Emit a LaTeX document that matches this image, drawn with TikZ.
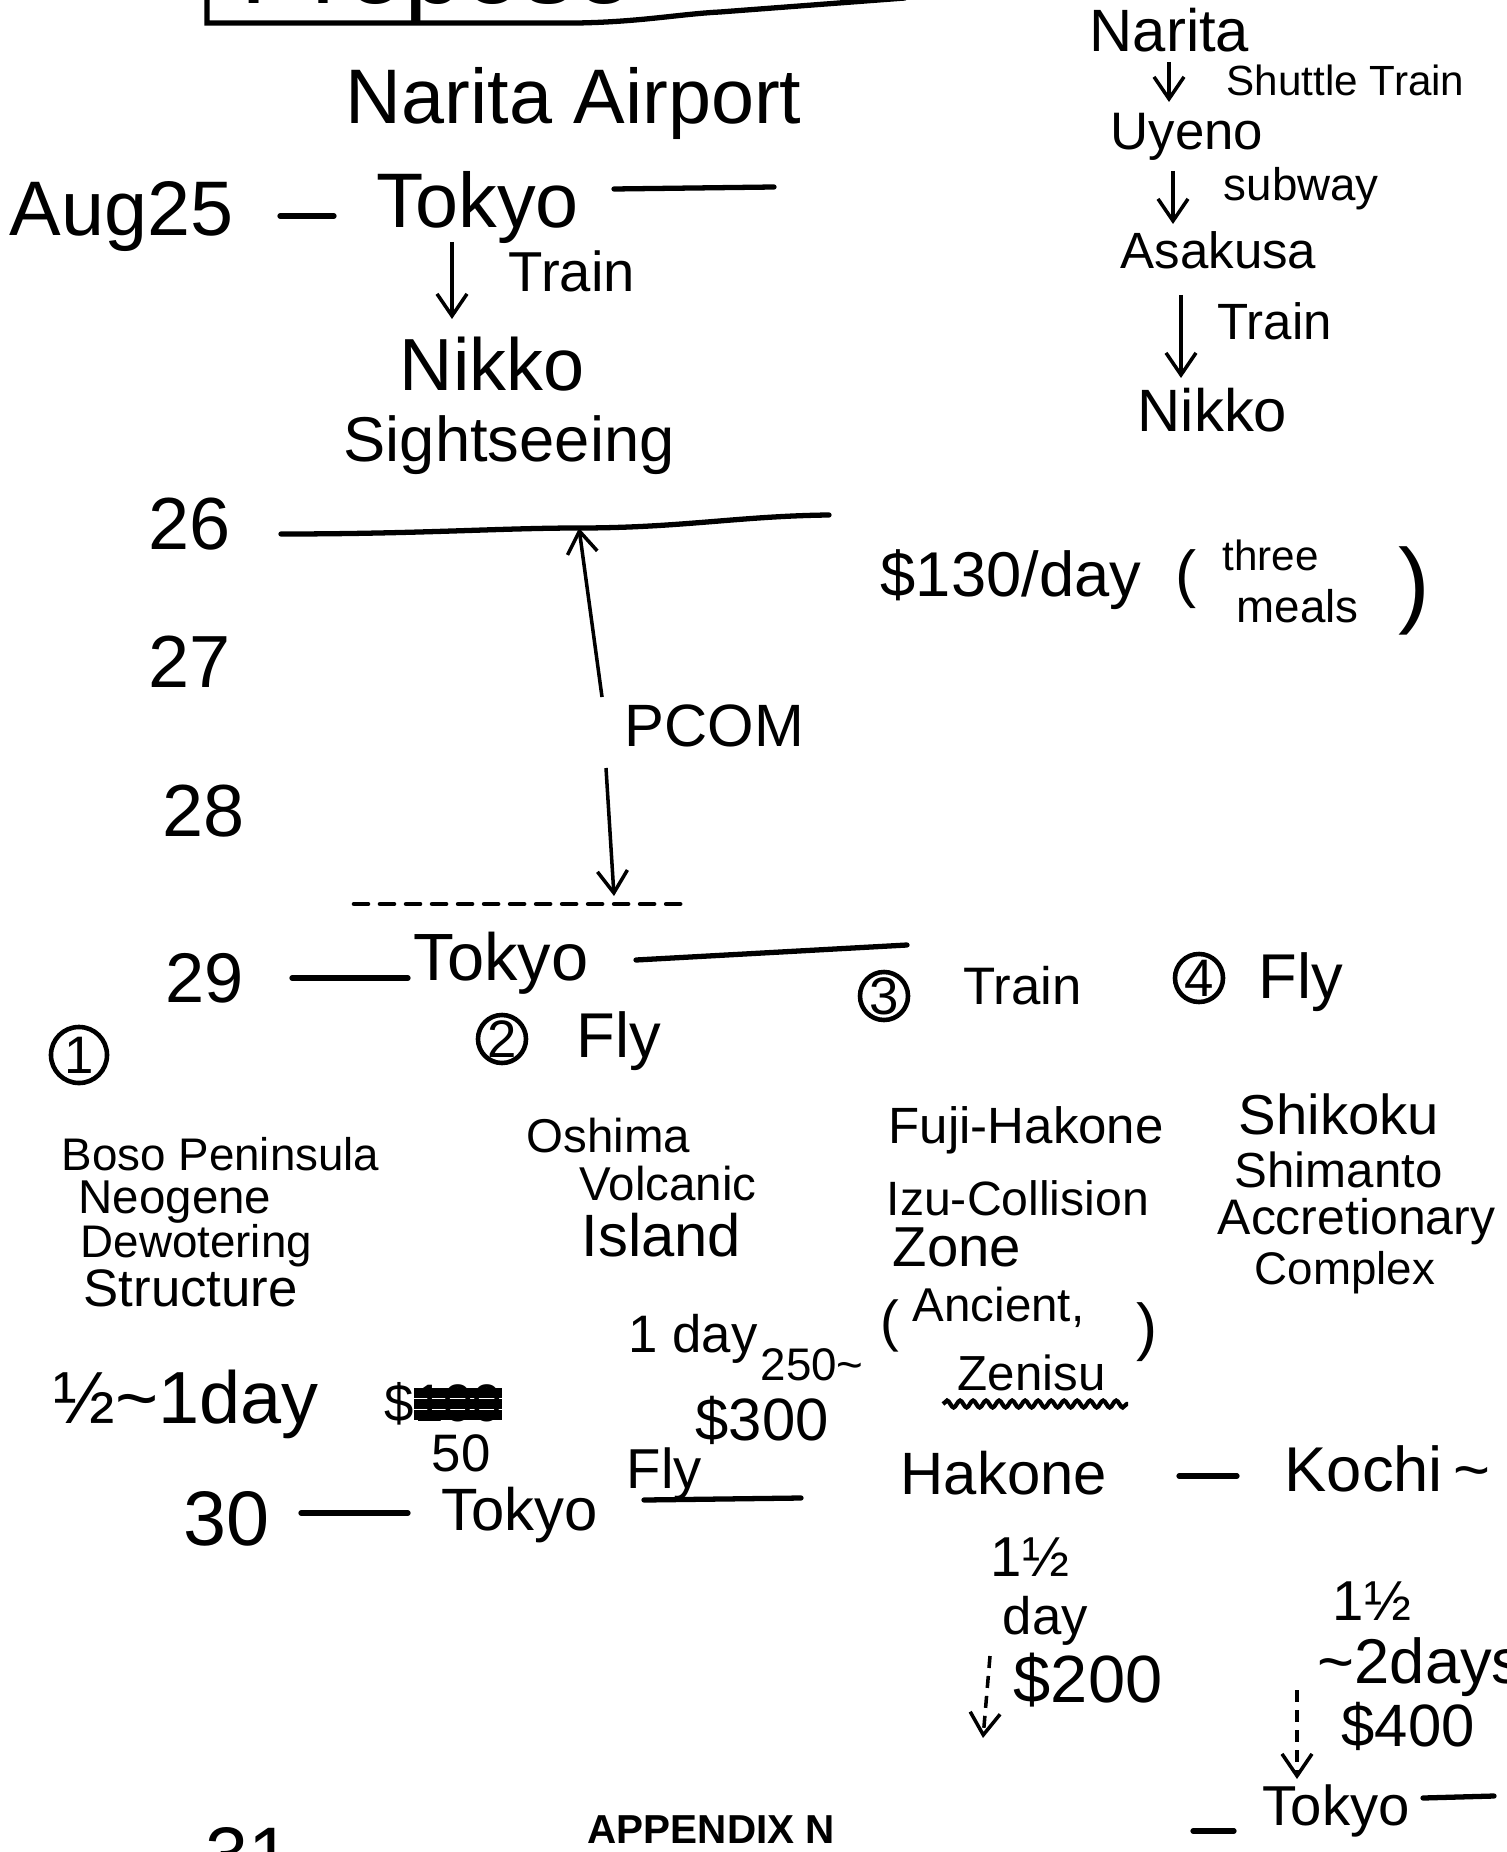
\documentclass[tikz,border=0pt]{standalone}
\usepackage{fontspec}
\setmainfont{Liberation Sans}
\usepackage{tikz}
\usetikzlibrary{arrows.meta, positioning, calc, decorations.pathmorphing}
\definecolor{inkColor}{RGB}{0, 0, 0}

\begin{document}
\begin{tikzpicture}[
    x=0.01cm, y=-0.01cm,
    hand/.style={
        anchor=base west,
        inner sep=0pt,
        text=inkColor,
        font=\fontsize{#1}{#1}\selectfont
    },
    bar/.style={draw=inkColor, line width=1.5pt, line cap=round},
    arr/.style={draw=inkColor, line width=1pt, -{Straight Barb[length=0.22cm, width=0.3cm]}},
    dasharr/.style={arr, dash pattern=on 0.12cm off 0.08cm},
    scratch/.style={draw=inkColor, line width=3pt},
    numcirc/.style={
        circle,
        draw=inkColor,
        line width=1.3pt,
        inner sep=0pt,
        minimum size=0.48cm,
        font=\fontsize{15}{15}\selectfont
    }
]
    \fill[white] (0,0) rectangle (1506,1852);
    \useasboundingbox (0,0) rectangle (1506,1852);

    % Title box (cut at the top edge)
    \node[hand=30] (title) at (240,4) {Propose};
    \draw[bar] (207,-5) -- (207,23) -- (577,23) .. controls (640,22) and (680,14) .. (720,12) -- (905,-2);

    % Narita airport
    \node[hand=22] (airport) at (345,124) {Narita Airport};

    % Route to Nikko
    \node[hand=17] (narR) at (1089,52) {Narita};
    \node[hand=12] (shuttle) at (1226,96) {Shuttle Train};
    \node[hand=15] (uyeno) at (1110,150) {Uyeno};
    \node[hand=13] (subway) at (1223,201) {subway};
    \node[hand=14.5] (asakusa) at (1120,269) {Asakusa};
    \node[hand=14.5] (trainR) at (1217,340) {Train};
    \node[hand=17] (nikR) at (1137,431) {Nikko};
    \draw[arr] ($(narR.base west)+(80,10)$) -- ($(uyeno.base west)+(59,-48)$);
    \draw[arr] ($(uyeno.base west)+(63,21)$) -- ($(asakusa.base west)+(53,-45)$);
    \draw[arr] ($(asakusa.base west)+(61,26)$) -- ($(nikR.base west)+(44,-53)$);

    % Aug 25
    \node[hand=22] (aug) at (9,236) {Aug25};
    \node[hand=22] (tokyoA) at (376,228) {Tokyo};
    \coordinate (barA) at (774,187);
    \draw[bar] ($(aug.base west)+(271,-20)$) -- ($(tokyoA.base west)+(-42,-12)$);
    \draw[bar] ($(tokyoA.base west)+(238,-39)$) -- (barA);
    \node[hand=16] (trainA) at (508,292) {Train};
    \node[hand=21] (nikA) at (399,390) {Nikko};
    \node[hand=18] (sight) at (343,461) {Sightseeing};
    \draw[arr] ($(tokyoA.base west)+(76,14)$) -- ($(nikA.base west)+(53,-71)$);

    % 26 - 28
    \node[hand=21] (d26) at (148,549) {26};
    \node[hand=21] (d27) at (148,687) {27};
    \node[hand=21] (d28) at (162,836) {28};
    \coordinate (bar26m) at (579,528);
    \coordinate (bar26r) at (829,515);
    \draw[bar] ($(d26.base west)+(133,-15)$) .. controls (420,534) and (500,528) .. (bar26m)
        .. controls (680,528) and (740,516) .. (bar26r);
    \node[hand=17] (pcom) at (624,746) {PCOM};
    \draw[arr] ($(pcom.base west)+(-22,-49)$) -- (bar26m);
    \coordinate (dash28l) at (354,904);
    \coordinate (dash28m) at (614,896);
    \coordinate (dash28r) at (691,904);
    \draw[bar, line width=1.3pt, dash pattern=on 0.14cm off 0.12cm] (dash28l) -- (dash28r);
    \draw[arr] ($(pcom.base west)+(-18,22)$) -- (dash28m);

    % Daily rate
    \node[hand=18] (rate) at (880,596) {\$130/day};
    \node[hand=18] (rateL) at (1175,595) {(};
    \node[hand=12] (three) at (1222,570) {three};
    \node[hand=13] (meals) at (1236,622) {meals};
    \node[hand=27] (rateR) at (1398,615) {)};

    % 29
    \node[hand=20] (d29) at (165,1002) {29};
    \node[hand=19] (tokyoB) at (413,980) {Tokyo};
    \coordinate (barB) at (907,945);
    \draw[bar] ($(d29.base west)+(127,-24)$) -- ($(tokyoB.base west)+(-5,-2)$);
    \draw[bar] ($(tokyoB.base west)+(223,-20)$) -- (barB);

    % Options
    \node[numcirc, minimum size=0.56cm] (opt1) at (79,1055) {1};
    \node[numcirc] (opt2) at (502,1039) {2};
    \node[hand=18] (fly2) at (576,1057) {Fly};
    \node[numcirc] (opt3) at (884,996) {3};
    \node[hand=15] (train3) at (963,1004) {Train};
    \node[numcirc] (opt4) at (1199,978) {4};
    \node[hand=18] (fly4) at (1258,998) {Fly};

    % Option 1
    \node[hand=13] (boso) at (61,1170) {Boso Peninsula};
    \node[hand=13.5] (neogene) at (78,1213) {Neogene};
    \node[hand=13] (dewater) at (80,1257) {Dewotering};
    \node[hand=15] (struct) at (83,1306) {Structure};
    \node[hand=21] (half) at (53,1423) {½\textasciitilde1day};
    \node[hand=15] (cost1) at (384,1421) {\$100};
    \draw[scratch] ($(cost1.base west)+(30,-6)$) -- ++(88,0);
    \draw[scratch] ($(cost1.base west)+(30,-17)$) -- ++(88,0);
    \draw[scratch] ($(cost1.base west)+(30,-28)$) -- ++(88,0);
    \node[hand=15] (cost1b) at (431,1471) {50};

    % Option 2
    \node[hand=13.5] (oshima) at (526,1152) {Oshima};
    \node[hand=13.5] (volcanic) at (579,1200) {Volcanic};
    \node[hand=17] (island) at (581,1256) {Island};
    \node[hand=15] (oneday) at (628,1352) {1 day};
    \node[hand=13] (cost2a) at (760,1380) {250\textasciitilde};
    \node[hand=17] (cost2b) at (695,1440) {\$300};

    % Option 3
    \node[hand=14.5] (fuji) at (888,1143) {Fuji-Hakone};
    \node[hand=13.7] (izu) at (886,1215) {Izu-Collision};
    \node[hand=16] (zone) at (892,1266) {Zone};
    \node[hand=16] (ancL) at (880,1340) {(};
    \node[hand=13.5] (ancient) at (912,1321) {Ancient,};
    \node[hand=18] (ancR) at (1136,1348) {)};
    \node[hand=14] (zenisu) at (957,1390) {Zenisu};
    \draw[line width=1.2pt, decorate, decoration={snake, segment length=0.13cm, amplitude=0.035cm}]
        ($(zenisu.base west)+(-14,14)$) -- ++(185,0);

    % Option 4
    \node[hand=16] (shikoku) at (1238,1134) {Shikoku};
    \node[hand=14] (shimanto) at (1234,1187) {Shimanto};
    \node[hand=14.2] (accret) at (1217,1234) {Accretionary};
    \node[hand=13] (complex) at (1254,1284) {Complex};

    % 30
    \node[hand=16] (fly30) at (626,1488) {Fly};
    \node[hand=22] (d30) at (183,1545) {30};
    \node[hand=17] (tokyoC) at (441,1530) {Tokyo};
    \coordinate (barC) at (801,1498);
    \draw[bar] ($(d30.base west)+(118,-32)$) -- ($(tokyoC.base west)+(-33,-17)$);
    \draw[bar] ($(tokyoC.base west)+(203,-30)$) -- (barC);

    % Hakone and Kochi
    \node[hand=17] (hakone) at (900,1494) {Hakone};
    \node[hand=18] (kochi) at (1284,1491) {Kochi\,\textasciitilde};
    \draw[bar] ($(hakone.base west)+(279,-18)$) -- ($(kochi.base west)+(-47,-15)$);
    \node[hand=16] (hakDur) at (990,1576) {1½};
    \node[hand=15] (hakDay) at (1002,1634) {day};
    \node[hand=19] (hakCost) at (1013,1702) {\$200};
    \coordinate (hakEnd) at (983,1738);
    \draw[dasharr] ($(hakDay.base west)+(-12,22)$) -- (hakEnd);
    \node[hand=16] (kocDur) at (1332,1620) {1½};
    \node[hand=18] (kocDays) at (1317,1683) {\textasciitilde2days};
    \node[hand=17] (kocCost) at (1341,1746) {\$400};
    \node[hand=16] (tokyoD) at (1262,1825) {Tokyo};
    \draw[dasharr] ($(kocDays.base west)+(-20,7)$) -- ($(tokyoD.base west)+(35,-46)$);
    \coordinate (barDl) at (1193,1831);
    \coordinate (barDr) at (1494,1796);
    \draw[bar] (barDl) -- ($(tokyoD.base west)+(-28,6)$);
    \draw[bar] ($(tokyoD.base west)+(161,-27)$) -- (barDr);

    % Footer
    \node[anchor=base west, inner sep=0pt, font=\fontsize{11.5}{11.5}\selectfont\bfseries] (appendix) at (587,1843) {APPENDIX N};
    \node[hand=22] (page) at (205,1881) {31};

\end{tikzpicture}
\end{document}
